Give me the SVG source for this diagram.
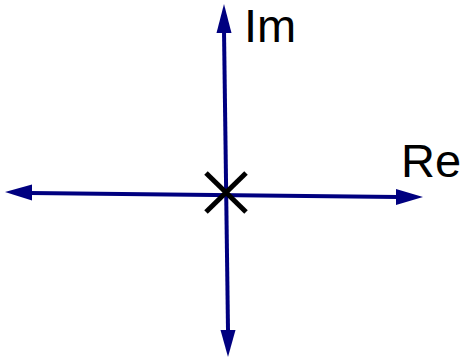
<svg xmlns="http://www.w3.org/2000/svg" width="461" height="359" viewBox="0 0 461 359">
<style>
.ax{stroke:#000080;stroke-width:4;fill:none}
.ah{fill:#000080}
.lbl{font-family:"Liberation Sans",Arial,sans-serif;font-size:47px;fill:#000}
.x{stroke:#000;stroke-width:5;fill:none}
</style>
<g id="connectors">
<line class="ax" x1="224" y1="30" x2="228" y2="330"/>
<polygon class="ah" points="224,4 231.5,33 216.5,33"/>
<polygon class="ah" points="228,357 220.5,330 235.5,330"/>
<line class="ax" x1="30" y1="193" x2="398" y2="197"/>
<polygon class="ah" points="5,192 32,184.5 32,200.5"/>
<polygon class="ah" points="423,197 396,189 396,205"/>
</g>
<g id="pole">
<line class="x" x1="206" y1="173" x2="246" y2="212"/>
<line class="x" x1="246" y1="173" x2="206" y2="212"/>
</g>
<g id="label-im"><text class="lbl" x="244" y="42">Im</text></g>
<g id="label-re"><text class="lbl" x="401" y="177">Re</text></g>
</svg>
